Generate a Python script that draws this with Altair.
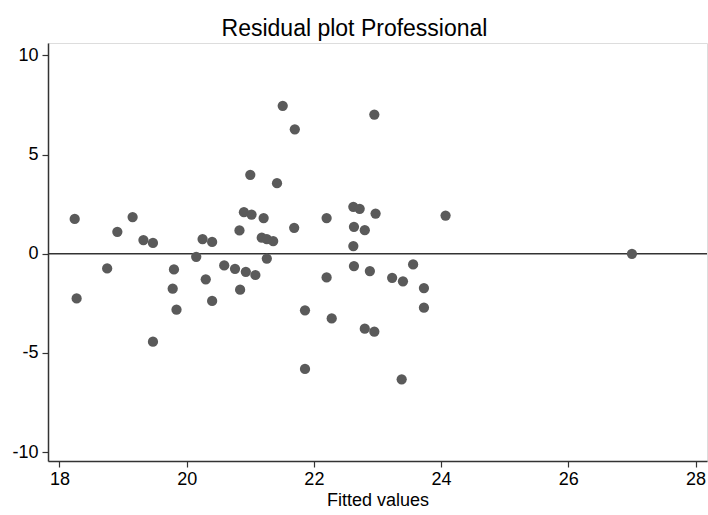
import altair as alt
import pandas as pd

fitted = [18.24, 18.27, 18.75, 18.91, 19.15, 19.32, 19.47, 19.47, 19.80, 19.78,
          19.84, 20.15, 20.25, 20.40, 20.30, 20.40, 20.59, 20.76, 20.93, 21.08,
          20.83, 20.84, 20.90, 21.02, 21.21, 21.18, 21.26, 21.36, 21.26, 21.00,
          21.42, 21.69, 22.20, 22.20, 21.86, 22.28, 21.86, 21.51, 21.70, 22.95,
          22.62, 22.72, 22.97, 24.07, 22.63, 22.80, 22.62, 22.63, 22.88, 23.23,
          23.40, 23.56, 23.73, 23.73, 22.80, 22.95, 23.38, 27.00]
resid = [1.76, -2.25, -0.74, 1.11, 1.85, 0.69, 0.55, -4.43, -0.79, -1.76,
         -2.82, -0.15, 0.74, 0.60, -1.29, -2.38, -0.59, -0.76, -0.91, -1.07,
         1.18, -1.81, 2.10, 1.98, 1.80, 0.81, 0.74, 0.64, -0.24, 3.98,
         3.56, 1.31, 1.80, -1.19, -2.85, -3.26, -5.81, 7.46, 6.28, 7.02,
         2.37, 2.27, 2.03, 1.93, 1.36, 1.19, 0.39, -0.62, -0.87, -1.21,
         -1.39, -0.54, -1.73, -2.72, -3.78, -3.93, -6.33, 0.00]

x_ticks = [18, 20, 22, 24, 26, 28]
y_ticks = [-10, -5, 0, 5, 10]

df = pd.DataFrame({"fitted": fitted, "resid": resid})
zero = pd.DataFrame({"y": [0]})

FONT = "Liberation Sans"

xscale = alt.Scale(domain=[17.82, 28.18], nice=False, zero=False)
yscale = alt.Scale(domain=[-10.45, 10.63], nice=False, zero=False)

points = alt.Chart(df).mark_circle(size=105, color="#5a5a5a", opacity=1).encode(
    x=alt.X("fitted:Q", scale=xscale,
            axis=alt.Axis(title="Fitted values", values=x_ticks, grid=False,
                          labelFontSize=18, titleFontSize=18, titleFontWeight="normal",
                          labelFont=FONT, titleFont=FONT, labelColor="#000", titleColor="#000",
                          tickSize=6, tickColor="#333", domainColor="#333", domainWidth=1.5,
                          tickWidth=1.2, labelPadding=3, titlePadding=3)),
    y=alt.Y("resid:Q", scale=yscale,
            axis=alt.Axis(title=None, values=y_ticks, grid=False,
                          labelExpr="replace(datum.label, '\u2212', '-')",
                          labelFontSize=18, labelFont=FONT, labelColor="#000",
                          tickSize=6, tickColor="#333", domainColor="#333", domainWidth=1.5,
                          tickWidth=1.2, labelPadding=4)),
)

rule = alt.Chart(zero).mark_rule(color="#333333", strokeWidth=1.5).encode(
    y=alt.Y("y:Q", scale=yscale)
)

chart = alt.layer(rule, points).properties(
    width=659,
    height=418,
    title=alt.TitleParams("Residual plot Professional", fontSize=23, font=FONT,
                          fontWeight="normal", color="#000", anchor="middle",
                          offset=2, dx=-23),
    autosize=alt.AutoSizeParams(type="none"),
    padding={"left": 48, "top": 43, "right": 1, "bottom": 54},
).configure_view(stroke="#777777", strokeWidth=2).configure(background="white")

chart.save("out.html", embed_options={"renderer": "svg", "actions": False})
